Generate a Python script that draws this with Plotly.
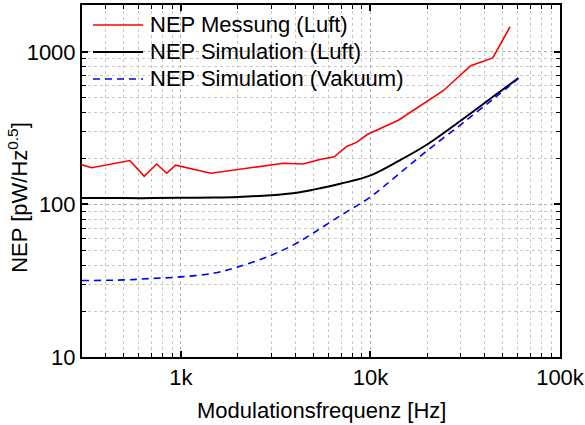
import plotly.graph_objects as go

# Data
freq_mess = [300, 338, 538, 640, 745, 841, 937, 1439, 3469, 4416, 5405, 6443,
             7486, 8450, 9620, 14030, 24200, 33800, 44200, 54500]
nep_mess = [182, 174, 194, 153, 184, 160, 181, 160, 186, 184, 197, 205,
            240, 255, 287, 356, 556, 812, 912, 1460]

freq_sim = [300, 500, 700, 1000, 1500, 2000, 3000, 4000, 5000, 7000, 10000,
            14000, 20000, 30000, 45000, 60300]
nep_sim_luft = [110, 110, 110, 110.5, 111, 112, 115, 119, 125, 137, 155,
                192, 248, 355, 515, 673]
nep_sim_vak = [31.7, 32.0, 32.7, 33.5, 35.5, 38.9, 46.5, 55, 65, 85, 112,
               157, 226, 334, 497, 668]

series_names = ["NEP Messung (Luft)", "NEP Simulation (Luft)", "NEP Simulation (Vakuum)"]
series_colors = ["#ff0000", "#000000", "#0000ff"]
series_widths = [1.6, 2, 1.6]
series_dash = ["solid", "solid", "7px,5px"]

x_ticks = [1000, 10000, 100000]
x_ticktext = ["1k", "10k", "100k"]
y_ticks = [10, 100, 1000]
y_ticktext = ["10", "100", "1000"]

FONT = "Arial, Liberation Sans, sans-serif"
FS = 22

fig = go.Figure()
fig.add_trace(go.Scatter(x=freq_mess, y=nep_mess, mode="lines",
                         name=series_names[0],
                         line=dict(color=series_colors[0], width=series_widths[0])))
fig.add_trace(go.Scatter(x=freq_sim, y=nep_sim_luft, mode="lines",
                         name=series_names[1], line_shape="spline",
                         line=dict(color=series_colors[1], width=series_widths[1])))
fig.add_trace(go.Scatter(x=freq_sim, y=nep_sim_vak, mode="lines",
                         name=series_names[2], line_shape="spline",
                         line=dict(color=series_colors[2], width=series_widths[2],
                                   dash=series_dash[2])))

minor_x = [m * 10 ** e for e in range(2, 5) for m in range(2, 10)]
minor_y = [m * 10 ** e for e in range(1, 4) for m in range(2, 10)]

axis_common = dict(
    showline=True, linecolor="black", linewidth=2, mirror="ticks",
    ticks="inside", ticklen=6, tickwidth=1.5, tickcolor="black",
    showgrid=True, gridcolor="#b0b0b0", griddash="dot", gridwidth=1,
    zeroline=False, automargin=False,
    tickfont=dict(family=FONT, size=FS, color="black"),
)

fig.update_xaxes(type="log", range=[2.478, 5.0],
                 tickvals=x_ticks, ticktext=x_ticktext,
                 minor=dict(tickvals=minor_x, ticks="inside", ticklen=4,
                            tickcolor="black", tickwidth=1.2,
                            showgrid=True, gridcolor="#c8c8c8", griddash="dot"),
                 **axis_common)
fig.update_yaxes(type="log", range=[1.0, 3.307],
                 tickvals=y_ticks, ticktext=y_ticktext,
                 minor=dict(tickvals=minor_y, ticks="inside", ticklen=4,
                            tickcolor="black", tickwidth=1.2,
                            showgrid=True, gridcolor="#c8c8c8", griddash="dot"),
                 **axis_common)

# axis titles as positioned annotations
fig.add_annotation(text="Modulationsfrequenz [Hz]", xref="paper", yref="paper",
                   x=0.5, y=-0.153, xanchor="center", yanchor="middle",
                   showarrow=False, font=dict(family=FONT, size=FS, color="black"))
fig.add_annotation(text="NEP [pW/Hz<sup>0.5</sup>]", xref="paper", yref="paper",
                   x=-0.134, y=0.455, xanchor="center", yanchor="middle",
                   textangle=-90, showarrow=False,
                   font=dict(family=FONT, size=FS, color="black"))

# compact legend (sample line + label per series)
leg_rows = [0.9432, 0.8665, 0.7898]
for name, col, w, d, yr in zip(series_names, series_colors, series_widths,
                               series_dash, leg_rows):
    fig.add_shape(type="line", xref="paper", yref="paper",
                  x0=0.023, x1=0.1276, y0=yr, y1=yr,
                  line=dict(color=col, width=w, dash=d))
    fig.add_annotation(text=name, xref="paper", yref="paper",
                       x=0.138, y=yr, xanchor="left", yanchor="middle",
                       showarrow=False,
                       font=dict(family=FONT, size=FS, color="black"))

fig.update_layout(
    width=585, height=425,
    margin=dict(l=82, r=25, t=5, b=68, autoexpand=False),
    paper_bgcolor="white", plot_bgcolor="white",
    font=dict(family=FONT, size=FS, color="black"),
    showlegend=False,
)

fig.write_html("out.html",
               config={"displayModeBar": False},
               post_script="document.body.style.margin='0';"
                           "document.body.style.padding='0';")
